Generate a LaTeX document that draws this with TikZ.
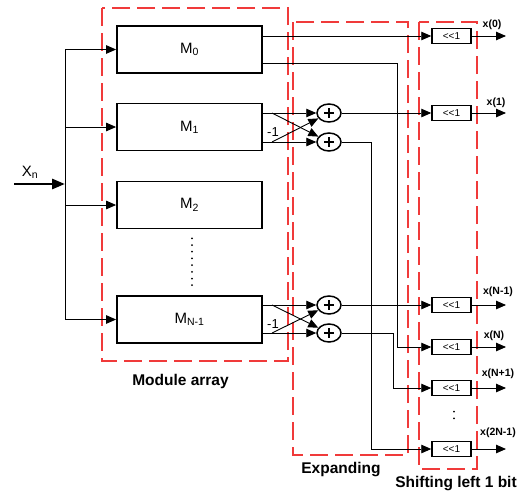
\documentclass[tikz,border=0pt]{standalone}
\usepackage{fontspec}
\setmainfont{Liberation Sans}
\usetikzlibrary{arrows.meta,shapes.geometric}
\definecolor{dred}{HTML}{F03A3A}
\begin{document}
\begin{tikzpicture}[x=1pt,y=-1pt,
 mbox/.style={draw, line width=1.8pt, minimum width=145pt, minimum height=47pt, inner sep=0pt, font=\fontsize{15}{17}\selectfont},
 sbox/.style={draw, line width=1.5pt, minimum width=39pt, minimum height=15pt, inner sep=0pt, font=\fontsize{10}{12}\selectfont},
 adder/.style={draw, ellipse, line width=1.5pt, minimum width=24pt, minimum height=18pt, inner sep=0pt,
   path picture={\draw[line width=2.6pt] ([xshift=-4.6pt]path picture bounding box.center) -- ([xshift=4.6pt]path picture bounding box.center);
                 \draw[line width=2.6pt] ([yshift=-4.6pt]path picture bounding box.center) -- ([yshift=4.6pt]path picture bounding box.center);}},
 conn/.style={line width=0.9pt},
 arr/.style={conn, -{Triangle[length=10pt,width=8.5pt]}},
 region/.style={draw=dred, line width=1.2pt, dash pattern=on 18pt off 7pt},
 lbl/.style={font=\bfseries\fontsize{15.5}{18}\selectfont, inner sep=0pt},
 olbl/.style={font=\bfseries\fontsize{10.5}{12}\selectfont, inner sep=0pt},
 neg/.style={font=\fontsize{13}{14}\selectfont, inner sep=0pt},
 dotline/.style={line width=2pt, line cap=round}
]
\useasboundingbox (0,0) rectangle (524,490);

% regions
\draw[region] (102,8) rectangle (288,361);
\draw[region] (293,22) rectangle (408,455);
\draw[region] (419,22) rectangle (477,469);

% module boxes
\node[mbox] (M0) at (189.5,49.5) {M\textsubscript{0}};
\node[mbox] (M1) at (189.5,127) {M\textsubscript{1}};
\node[mbox] (M2) at (189.5,205) {M\textsubscript{2}};
\node[mbox] (MN) at (189.5,319.5) {M\textsubscript{N-1}};
\draw[dotline, dash pattern=on 0pt off 6.7pt] (192,238.3) -- (192,285.2);

% adders
\node[adder] (A1) at (329,113) {};
\node[adder] (A2) at (329,142) {};
\node[adder] (A3) at (329,305) {};
\node[adder] (A4) at (329,333) {};

% shift boxes
\node[sbox] (S0) at (451.5,36) {<\kern0pt<1};
\node[sbox] (S1) at (451.5,113) {<\kern0pt<1};
\node[sbox] (SA) at (451.5,305) {<\kern0pt<1};
\node[sbox] (SB) at (451.5,347) {<\kern0pt<1};
\node[sbox] (SC) at (451.5,388) {<\kern0pt<1};
\node[sbox] (SD) at (451.5,449) {<\kern0pt<1};
\draw[dotline, dash pattern=on 0pt off 6.75pt] (454,411.5) -- (454,425);

% input bus
\coordinate (b0) at (65,49.5);
\coordinate (b1) at (65,127);
\coordinate (b2) at (65,205);
\coordinate (b3) at (65,319.5);
\coordinate (bin) at (65,184);
\coordinate (xin) at (14,184);
\draw[conn] (b0) -- (b3);
\draw[arr] (b0) -- (M0);
\draw[arr] (b1) -- (M1);
\draw[arr] (b2) -- (M2);
\draw[arr] (b3) -- (MN);
\draw[line width=2.8pt, -{Triangle[length=13pt,width=10pt]}] (xin) -- (bin);
\node[font=\fontsize{15}{17}\selectfont, inner sep=0pt] (xl) at (30,172) {X\textsubscript{n}};

% M0 outputs
\coordinate (m0a) at (262,36);
\coordinate (m0b) at (262,63);
\coordinate (m0c) at (397,63);
\coordinate (m0d) at (397,347);
\draw[arr] (m0a) -- (S0);
\draw[arr] (m0b) -- (m0c) -- (m0d) -- (SB);

% M1 outputs
\coordinate (m1a) at (262,113);
\coordinate (m1b) at (262,142);
\coordinate (c1a) at (272,113);
\coordinate (c1b) at (272,142);
\draw[arr] (m1a) -- (A1);
\draw[arr] (m1b) -- (A2);
\draw[arr] (c1a) -- (A2);
\draw[arr] (c1b) -- (A1);
\node[neg] (n1) at (273,132) {-1};

% MN-1 outputs
\coordinate (mna) at (262,305);
\coordinate (mnb) at (262,333);
\coordinate (c3a) at (272,305);
\coordinate (c3b) at (272,333);
\draw[arr] (mna) -- (A3);
\draw[arr] (mnb) -- (A4);
\draw[arr] (c3a) -- (A4);
\draw[arr] (c3b) -- (A3);
\node[neg] (n3) at (273,324) {-1};

% adder outputs
\coordinate (a2r) at (371,142);
\coordinate (a2d) at (371,449);
\coordinate (a4r) at (393,333);
\coordinate (a4d) at (393,388);
\draw[arr] (A1) -- (S1);
\draw[arr] (A2) -- (a2r) -- (a2d) -- (SD);
\draw[arr] (A3) -- (SA);
\draw[arr] (A4) -- (a4r) -- (a4d) -- (SC);

% outputs
\coordinate (o0) at (506,36);
\coordinate (o1) at (506,113);
\coordinate (oA) at (506,305);
\coordinate (oB) at (506,347);
\coordinate (oC) at (506,388);
\coordinate (oD) at (506,449);
\draw[arr] (S0) -- (o0);
\draw[arr] (S1) -- (o1);
\draw[arr] (SA) -- (oA);
\draw[arr] (SB) -- (oB);
\draw[arr] (SC) -- (oC);
\draw[arr] (SD) -- (oD);
\node[olbl] (l0) at (492,25) {x(0)};
\node[olbl] (l1) at (496,103) {x(1)};
\node[olbl] (lA) at (498,292) {x(N-1)};
\node[olbl] (lB) at (494,336) {x(N)};
\node[olbl] (lC) at (498,374) {x(N+1)};
\node[olbl] (lD) at (498,433) {x(2N-1)};

% captions
\node[lbl] (la) at (180.5,381) {Module array};
\node[lbl] (le) at (341,470) {Expanding};
\node[lbl] (ls) at (456,484) {Shifting left 1 bit};
\end{tikzpicture}
\end{document}
